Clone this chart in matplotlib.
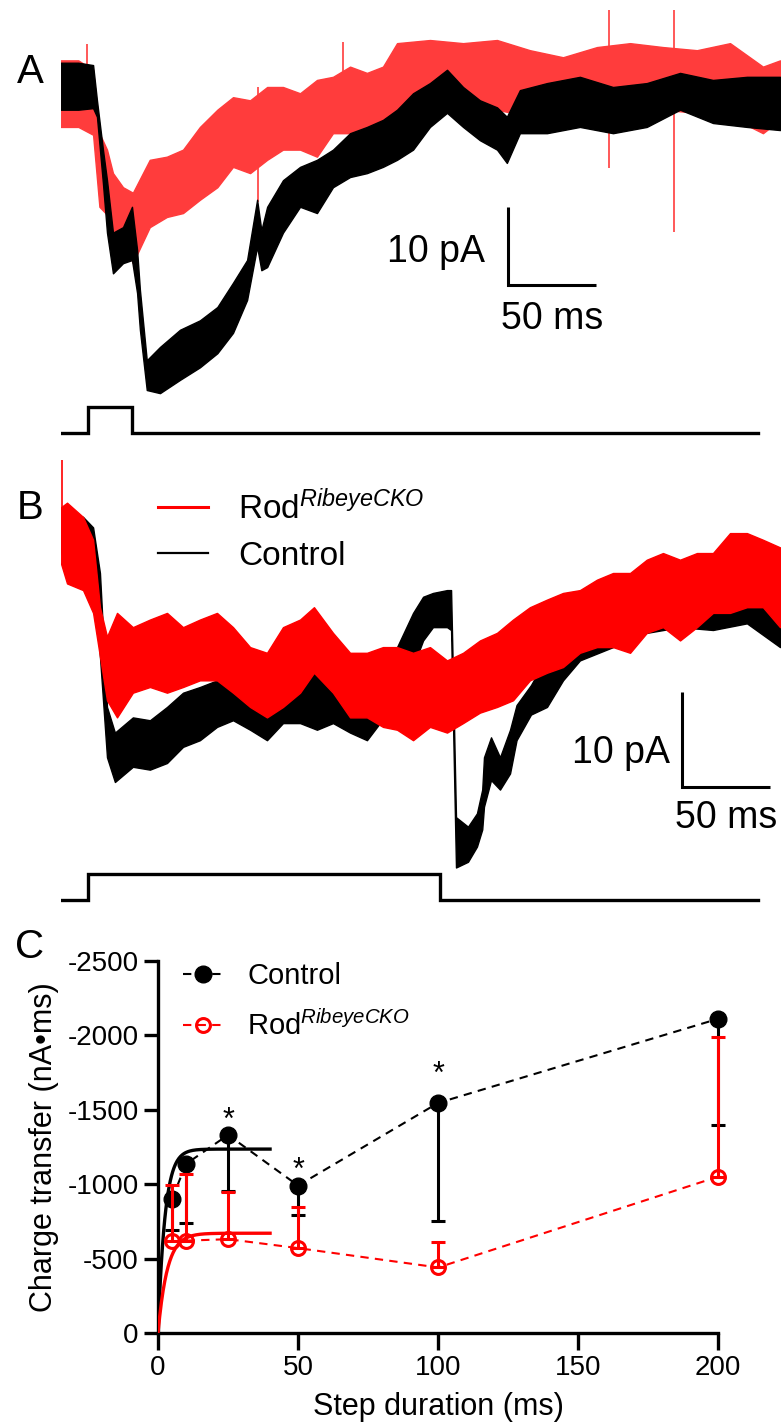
import numpy as np
import matplotlib
matplotlib.use("Agg")
import matplotlib.pyplot as plt
from matplotlib.lines import Line2D

plt.rcParams["font.family"] = ["Liberation Sans", "DejaVu Sans"]
plt.rcParams["mathtext.fontset"] = "custom"
plt.rcParams["mathtext.rm"] = "Liberation Sans"
plt.rcParams["mathtext.it"] = "Liberation Sans:italic"
plt.rcParams["axes.unicode_minus"] = False

# ---- panel A: 25 ms step, envelope of the recorded current (ms, pA) ----
a_ctrl_t = [0, 10, 18.4, 20.6, 24, 26.3, 29.7, 35.4, 40.5, 43.4, 45, 48.9, 56.4, 67.8, 79.1,
            89, 97.9, 105.9, 111.6, 114, 117.3, 126.3, 136, 145.6, 154.7, 164.4, 174, 183.1,
            191.1, 200.2, 209.8, 219.5, 228.6, 238.2, 247.9, 253.5, 260.9, 276.3, 295, 313.8,
            333, 351.9, 370.6, 389.9, 408.7]
a_ctrl_hi = [3.1, 3.1, 2.8, -1.7, -8.0, -11.9, -18.6, -17.9, -15.3, -20.8, -25.9, -34.9, -33.2,
             -31.0, -29.8, -28.1, -25.0, -22.1, -14.4, -18.3, -15.3, -11.9, -10.2, -9.3, -8.0,
             -5.9, -5.1, -4.2, -2.9, -0.8, 0.5, 2.2, 0.0, -1.7, -2.6, -3.8, -0.4, 0.5, 1.3, 0.0,
             0.5, 1.8, 0.9, 1.3, 1.3]
a_ctrl_lo = [-2.9, -2.9, -2.7, -3.8, -12.3, -18.6, -23.8, -22.5, -22.1, -26.3, -31.0, -38.7,
             -39.1, -37.4, -35.8, -34.0, -31.4, -27.2, -20.4, -23.4, -23.0, -18.6, -15.3, -16.1,
             -12.8, -11.5, -11.0, -10.2, -9.3, -8.0, -5.1, -3.3, -5.1, -6.8, -8.0, -9.7, -5.9,
             -5.9, -5.1, -5.9, -5.1, -2.9, -4.6, -5.1, -5.5]

a_rod_t = [0, 10, 18.4, 22, 26.3, 29.7, 35.4, 41, 50.6, 60.3, 69.5, 79.1, 89, 97.9, 107.6, 117.3,
           126.3, 136, 145.6, 154.7, 164.4, 174, 183.1, 191.1, 209.8, 228.6, 247.9, 266.6, 285.4,
           304.7, 323.5, 342.2, 361.5, 380.3, 399, 408.7]
a_rod_hi = [3.4, 3.4, 2.2, -5.9, -8.0, -11.0, -12.8, -13.5, -9.3, -8.9, -8.0, -5.1, -2.9, -1.3,
            -1.7, 0.0, 0.0, -0.8, 0.9, 1.3, 2.6, 1.8, 2.6, 5.6, 6.0, 5.6, 6.0, 4.7, 3.8, 5.1, 5.6,
            5.1, 4.7, 5.6, 2.6, 3.4]
a_rod_lo = [-5.1, -5.1, -6.1, -15.3, -16.3, -19.5, -19.5, -22.5, -17.9, -16.6, -16.1, -14.4,
            -12.8, -10.2, -11.0, -9.3, -8.0, -8.0, -8.9, -5.9, -5.9, -5.1, -4.6, -2.9, -2.9, -2.9,
            -2.9, -3.8, -2.9, -2.9, -2.9, -2.9, -3.3, -3.8, -5.9, -4.2]
a_rod_spike_t = [15, 112, 160.4, 311.5, 348.5]
a_rod_spike_lo = [0, -14.7, -3, -10.3, -18.5]
a_rod_spike_hi = [5.5, 0, 5.7, 9.8, 9.8]

# ---- panel B: 200 ms step ----
b_ctrl_t = [0, 3.6, 12.7, 18.4, 22.3, 26.3, 30.8, 41, 50.7, 60.4, 69.5, 79.1, 88.8, 97.9, 107.6,
            117.2, 126.3, 136, 145.6, 154.7, 164.4, 174, 182.6, 191.1, 200.2, 205.9, 211.5, 219.5,
            221.8, 224.6, 231.4, 236.5, 239.5, 240.5, 244.5, 249.6, 255.3, 259, 267.2, 276.3,
            285.4, 295, 313.8, 333, 351.9, 370.6, 389.9, 408.7]
b_ctrl_hi = [2.3, 2.6, 1.9, 0.8, -4.0, -18.1, -20.8, -19.2, -19.5, -18.1, -16.6, -16.0, -15.3,
             -14.5, -15.6, -16.0, -15.3, -14.5, -14.5, -15.3, -15.6, -15.3, -13.2, -11.8, -8.2,
             -6.5, -6.1, -5.8, -5.8, -29.7, -30.7, -29.3, -26.8, -23.4, -21.3, -23.4, -20.5,
             -17.9, -15.8, -12.8, -11.1, -9.7, -8.2, -5.1, -4.7, -5.5, -5.5, -5.5]
b_ctrl_lo = [-1.6, -4.0, -2.3, -2.9, -12.8, -23.4, -26.0, -24.4, -24.7, -24.0, -22.3, -21.6,
             -20.2, -19.5, -20.5, -21.6, -19.8, -19.8, -20.5, -19.8, -20.8, -21.6, -19.5, -17.4,
             -13.9, -11.1, -9.7, -9.7, -10.0, -35.0, -34.4, -32.8, -31.0, -28.6, -25.8, -26.8,
             -25.1, -21.6, -18.9, -18.1, -15.3, -13.2, -11.8, -10.3, -9.7, -10.0, -9.3, -11.8]

b_rod_t = [0, 3.6, 12.7, 18.4, 22.3, 26.3, 32.0, 41, 50.7, 60.4, 69.5, 79.1, 88.8, 97.9, 107.6,
           117.2, 126.3, 136, 143.9, 154.7, 164.4, 174, 183.1, 191.1, 200.2, 209.8, 219.5, 228.6,
           238.2, 247.9, 257, 266.6, 276.3, 285.4, 295, 304.7, 313.8, 323.5, 333, 342.2, 351.9,
           361.5, 370.6, 380.3, 389.9, 399, 408.7]
b_rod_hi = [2.9, 3.4, 1.9, -0.5, -7.6, -10.7, -8.2, -9.7, -8.9, -8.2, -9.7, -8.9, -8.2, -9.7,
            -11.8, -12.4, -9.7, -8.9, -7.6, -10.3, -12.4, -12.4, -11.8, -11.8, -12.4, -11.8,
            -13.2, -12.4, -11.1, -10.3, -8.9, -7.6, -6.8, -6.1, -5.8, -4.7, -4.0, -4.0, -2.6,
            -1.9, -2.6, -1.9, -1.9, 0.2, 0.2, -0.5, -1.3]
b_rod_lo = [-2.9, -5.1, -5.8, -8.2, -12.8, -17.4, -19.2, -16.6, -16.0, -16.6, -16.0, -15.3,
            -15.3, -16.6, -18.1, -19.2, -18.1, -16.6, -14.5, -16.6, -19.2, -19.2, -20.2, -20.5,
            -21.6, -20.2, -20.8, -19.8, -18.7, -18.1, -17.4, -15.3, -14.5, -13.9, -12.4, -11.8,
            -11.8, -12.4, -10.3, -9.7, -11.1, -9.7, -8.2, -8.2, -7.6, -7.6, -9.7]
b_rod_spike_t = [0.5]
b_rod_spike_lo = [0]
b_rod_spike_hi = [7.9]

# voltage protocol (ms, mV)
hold_mv, step_mv = -70, -10
step_on = 15.5
step_dur_a, step_dur_b = 25, 200
protocol_end = 396

# ---- panel C: charge transfer vs step duration ----
durations = [5, 10, 25, 50, 100, 200]
ctrl_mean = [-900, -1135, -1330, -990, -1545, -2110]
ctrl_sem = [210, 395, 375, 200, 795, 715]
rod_mean = [-615, -620, -630, -570, -440, -1050]
rod_sem = [380, 450, 315, 275, 170, 935]
sig_x = [25, 50, 100]
sig_y = [-1480, -1150, -1790]
fit_amp = {"ctrl": -1235, "rod": -670}
fit_tau = {"ctrl": 2.5, "rod": 3.3}
fit_end = 40

RED_A = "#ff3c3c"
RED = "#ff0000"

W, H = 781, 1423
fig = plt.figure(figsize=(W / 100, H / 100), dpi=100)


def px_axes(x0, y0, x1, y1):
    ax = fig.add_axes([x0 / W, 1 - y1 / H, (x1 - x0) / W, (y1 - y0) / H])
    ax.patch.set_alpha(0)
    return ax


def fig_text(x, y, s, **kw):
    fig.text(x / W, 1 - y / H, s, **kw)


MS_PX = 1.76          # pixels per ms in the trace panels
T0_PX = 60.7
TMAX = 410


def trace_axes(y_top, y_bot, zero_y, px_per_pa):
    ax = px_axes(T0_PX, y_top, T0_PX + TMAX * MS_PX, y_bot)
    ax.set_xlim(0, TMAX)
    ax.set_ylim(-(y_bot - zero_y) / px_per_pa, (zero_y - y_top) / px_per_pa)
    ax.axis("off")
    return ax


def stim_axes(y_top, y_bot, base_y, step_px, dur):
    ax = px_axes(T0_PX, y_top, T0_PX + TMAX * MS_PX, y_bot)
    mv_px = step_px / (step_mv - hold_mv)
    ax.set_xlim(0, TMAX)
    ax.set_ylim(hold_mv - (y_bot - base_y) / mv_px, hold_mv + (base_y - y_top) / mv_px)
    t = [0, step_on, step_on + dur, protocol_end]
    v = [hold_mv, step_mv, hold_mv, hold_mv]
    ax.step(t, v, where="post", color="k", lw=2.4, solid_joinstyle="miter")
    ax.axis("off")


def band(ax, t, lo, hi, color, z):
    ax.fill_between(t, lo, hi, color=color, lw=1.0, zorder=z)


def scale_bar(ax, t0, y0, ms, pa):
    ax.plot([t0, t0, t0 + ms], [y0 + pa, y0, y0], color="k", lw=2.2,
            solid_joinstyle="miter", solid_capstyle="butt")


# ---------------- A ----------------
A_ZERO, A_PXPA = 87, 7.83
ax_a = trace_axes(0, 400, A_ZERO, A_PXPA)
band(ax_a, a_rod_t, a_rod_lo, a_rod_hi, RED_A, 1)
ax_a.vlines(a_rod_spike_t, a_rod_spike_lo, a_rod_spike_hi, color=RED_A, lw=1.2, zorder=1)
band(ax_a, a_ctrl_t, a_ctrl_lo, a_ctrl_hi, "k", 2)
scale_bar(ax_a, 254, -25.3, 50, 10)
ax_a.text(241, -21.1, "10 pA", fontsize=27, ha="right", va="center")
ax_a.text(279, -29.6, "50 ms", fontsize=27, ha="center", va="center")
stim_axes(395, 445, 432.7, 26, step_dur_a)

# ---------------- B ----------------
B_ZERO, B_PXPA = 535, 9.5
ax_b = trace_axes(440, 880, B_ZERO, B_PXPA)
band(ax_b, b_ctrl_t, b_ctrl_lo, b_ctrl_hi, "k", 1)
band(ax_b, b_rod_t, b_rod_lo, b_rod_hi, RED, 2)
ax_b.vlines(b_rod_spike_t, b_rod_spike_lo, b_rod_spike_hi, color=RED, lw=1.2, zorder=2)
scale_bar(ax_b, 352.8, -26.5, 50, 10)
ax_b.text(346.2, -22.9, "10 pA", fontsize=27, ha="right", va="center")
ax_b.text(378, -29.8, "50 ms", fontsize=27, ha="center", va="center")
stim_axes(860, 910, 900, 26, step_dur_b)

rod_label = "Rod$^{\\mathit{RibeyeCKO}}$"
ax_b.legend(handles=[Line2D([], [], color=RED, lw=2.2), Line2D([], [], color="k", lw=1.6)],
            labels=[rod_label, "Control"], loc="upper left",
            bbox_to_anchor=(158 / W, 1 - 490 / H), bbox_transform=fig.transFigure,
            frameon=False, fontsize=24, handlelength=1.5, handletextpad=0.9,
            labelspacing=0.45, borderpad=0, borderaxespad=0)

# ---------------- C ----------------
ax_c = px_axes(158, 960.7, 718.3, 1333)
ax_c.set_xlim(0, 200)
ax_c.set_ylim(0, -2500)

ax_c.plot(durations, ctrl_mean, color="k", lw=1.5, dashes=(4, 3), zorder=2, clip_on=False)
ax_c.plot(durations, rod_mean, color=RED, lw=1.5, dashes=(4, 3), zorder=2, clip_on=False)

xf = np.linspace(0, fit_end, 200)
ax_c.plot(xf, fit_amp["ctrl"] * (1 - np.exp(-xf / fit_tau["ctrl"])), color="k", lw=2.4, zorder=3)
ax_c.plot(xf, fit_amp["rod"] * (1 - np.exp(-xf / fit_tau["rod"])), color=RED, lw=2.4, zorder=3)

zeros = np.zeros(len(durations))
ax_c.errorbar(durations, ctrl_mean, yerr=[zeros, ctrl_sem], fmt="o", color="k", ms=12,
              elinewidth=2.2, capsize=5, capthick=2.2, zorder=4, clip_on=False)
ax_c.errorbar(durations, rod_mean, yerr=[rod_sem, zeros], fmt="o", color=RED, mfc="none",
              mec=RED, mew=2.2, ms=10, elinewidth=2.2, capsize=5, capthick=2.2, zorder=5,
              clip_on=False)

for x, y in zip(sig_x, sig_y):
    ax_c.annotate("*", (x, y), xytext=(0, -12), textcoords="offset points",
                  ha="center", va="baseline", fontsize=22)

ax_c.set_xticks([0, 50, 100, 150, 200])
ax_c.set_yticks([0, -500, -1000, -1500, -2000, -2500])
ax_c.set_yticklabels(["0", "-500", "-1000", "-1500", "-2000", "-2500"])
for s in ("top", "right"):
    ax_c.spines[s].set_visible(False)
for s in ("left", "bottom"):
    ax_c.spines[s].set_linewidth(2.4)
ax_c.tick_params(axis="both", width=2.4, labelsize=20, pad=4)
ax_c.tick_params(axis="y", length=10)
ax_c.tick_params(axis="x", length=12)
ax_c.set_xlabel("Step duration (ms)", fontsize=22, labelpad=8)
ax_c.set_ylabel("Charge transfer (nA\u2022ms)", fontsize=22, labelpad=6)

ax_c.legend(handles=[Line2D([], [], color="k", lw=1.5, dashes=(4, 3), marker="o", ms=12),
                     Line2D([], [], color=RED, lw=1.5, dashes=(4, 3), marker="o", ms=10,
                            mfc="none", mew=2.2)],
            labels=["Control", rod_label], loc="upper left",
            bbox_to_anchor=(183 / W, 1 - 962 / H), bbox_transform=fig.transFigure,
            frameon=False, fontsize=21, handlelength=1.4, handletextpad=0.8,
            labelspacing=0.7, borderpad=0, borderaxespad=0)

# panel letters
fig_text(30, 72, "A", fontsize=29, ha="center", va="center")
fig_text(30, 508, "B", fontsize=29, ha="center", va="center")
fig_text(30, 947, "C", fontsize=29, ha="center", va="center")

fig.savefig("out.png", dpi=100)
